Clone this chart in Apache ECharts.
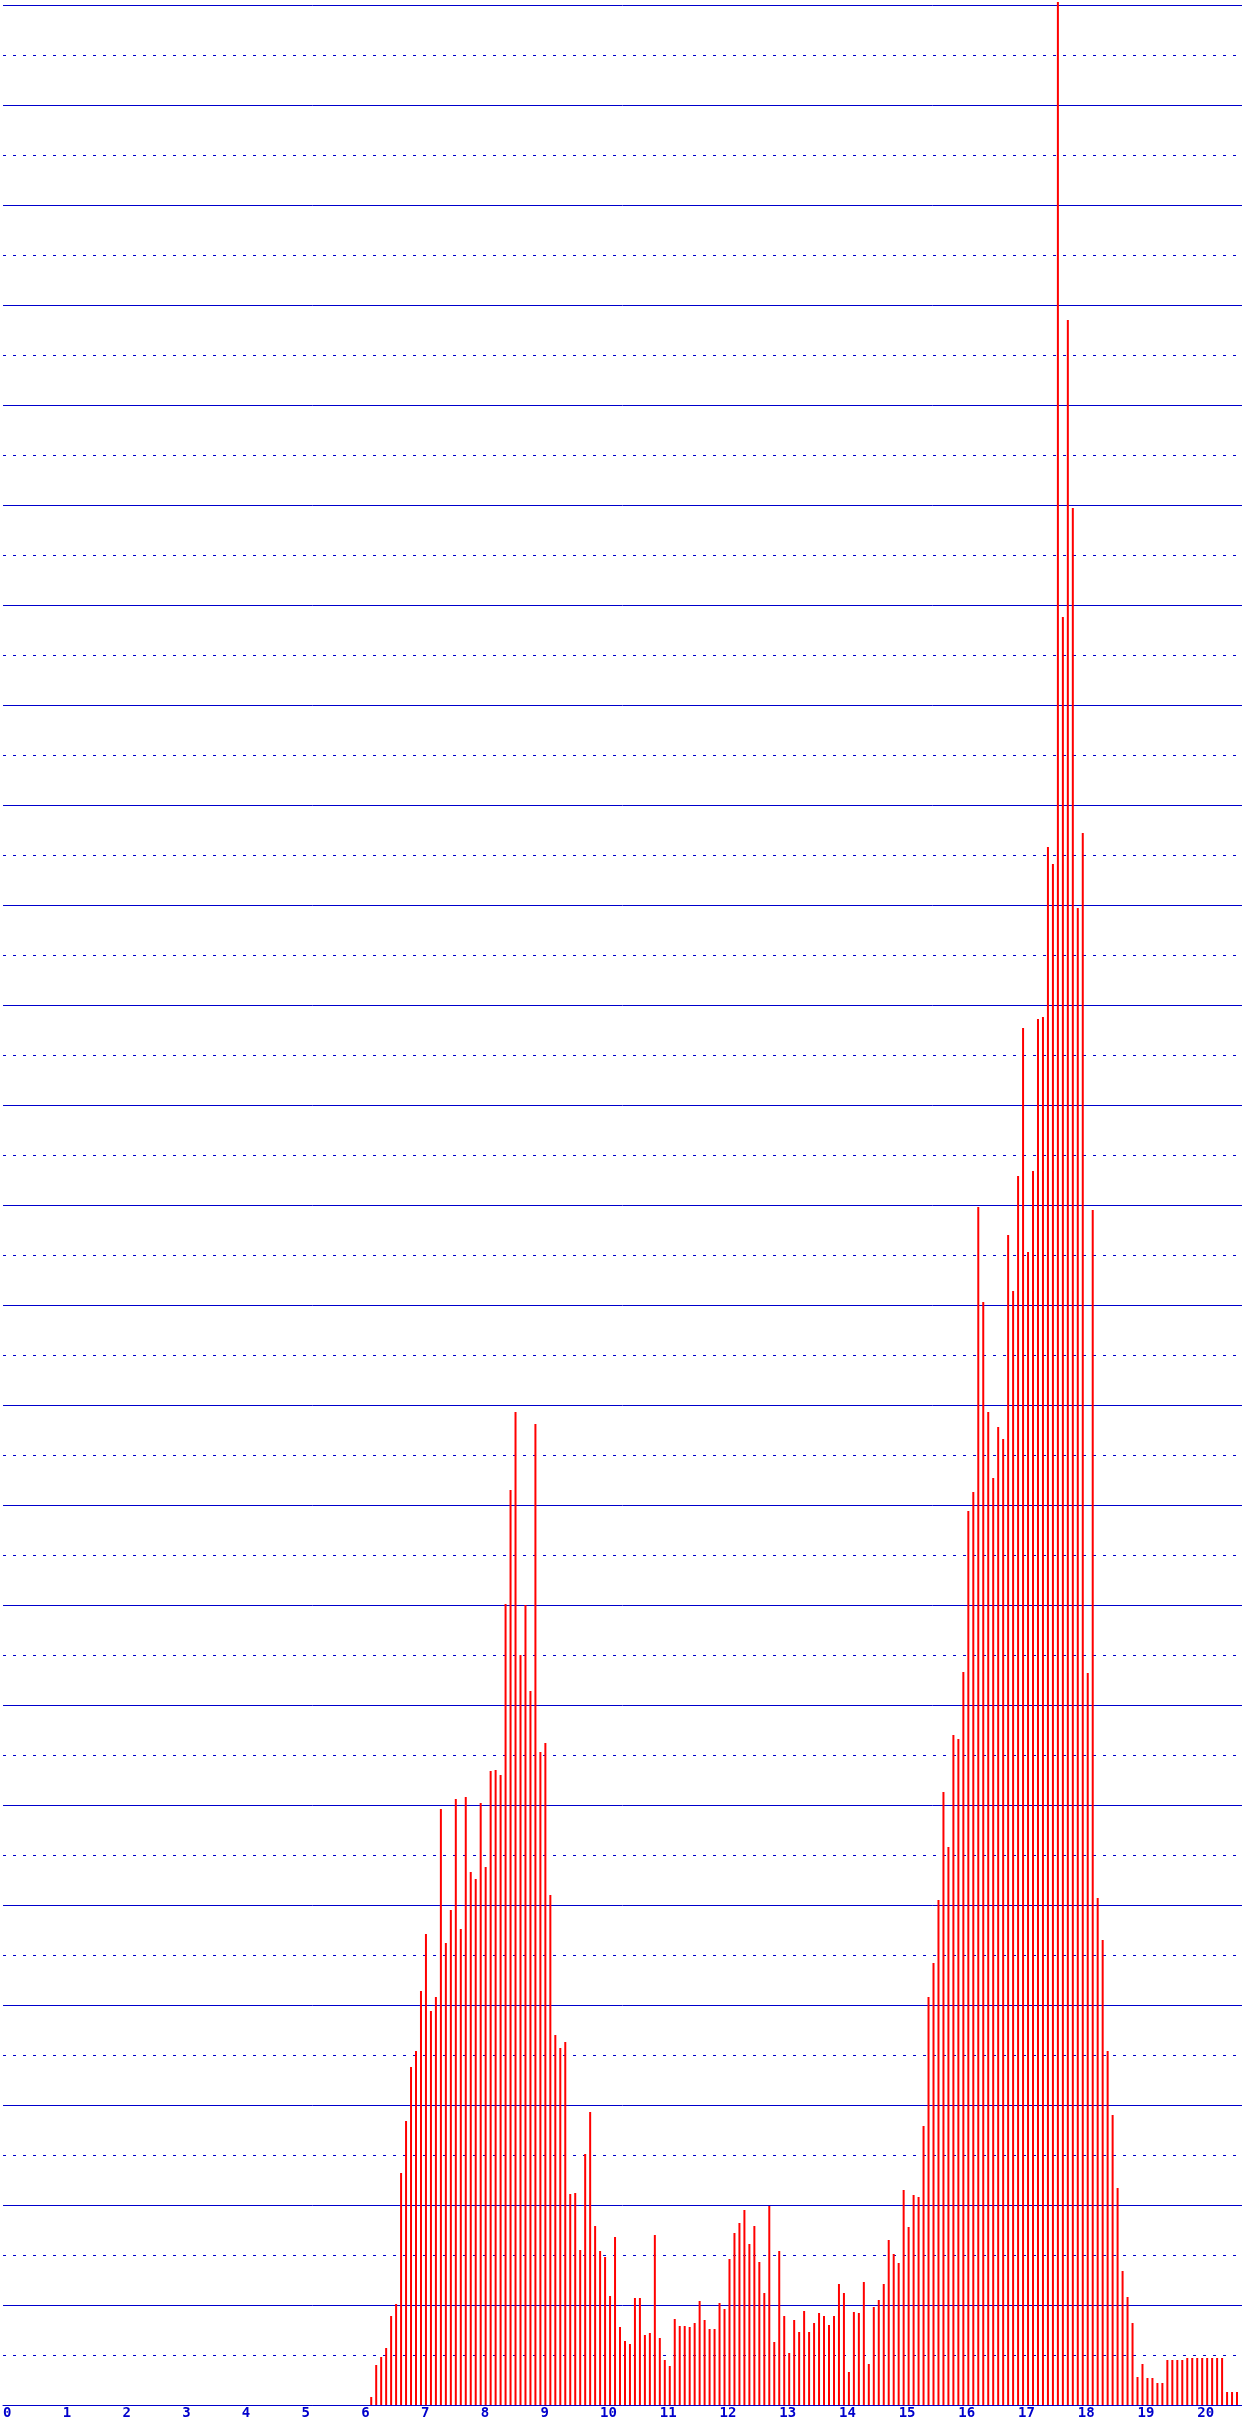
<!DOCTYPE html>
<html>
<head>
<meta charset="utf-8">
<style>
  html, body { margin: 0; padding: 0; background: #ffffff; }
  #chart { width: 1242px; height: 2425px; }
</style>
<script src="https://cdn.jsdelivr.net/npm/echarts@6/dist/echarts.min.js"></script>
</head>
<body>
<div id="chart"></div>
<script>
// Histogram of counts per 5-minute bin, x axis in hours of the day.
const firstBinMinute = 370;   // first non-empty bin starts at 6:10
const binMinutes = 5;
const counts = [
  8, 40, 48, 57, 89, 101, 232, 284, 338, 354,
  414, 471, 394, 408, 596, 462, 495, 606, 476, 608,
  533, 526, 602, 538, 634, 635, 630, 801, 915, 993,
  750, 800, 714, 981, 653, 662, 510, 370, 357, 363,
  211, 212, 155, 251, 293, 179, 154, 148, 109, 168,
  78, 64, 61, 107, 107, 70, 72, 170, 67, 45,
  39, 86, 79, 79, 78, 82, 104, 85, 76, 76,
  102, 96, 146, 172, 182, 195, 161, 179, 143, 112,
  199, 63, 154, 89, 52, 85, 73, 94, 73, 82,
  92, 89, 80, 89, 121, 112, 33, 93, 92, 123,
  41, 98, 105, 121, 165, 151, 142, 215, 178, 210,
  208, 279, 408, 442, 505, 613, 558, 670, 666, 733,
  894, 913, 1198, 1103, 993, 927, 978, 966, 1170, 1114,
  1229, 1377, 1153, 1234, 1386, 1388, 1558, 1541, 2403, 1788,
  2085, 1897, 1497, 1572, 732, 1195, 507, 465, 354, 290,
  217, 134, 108, 82, 28, 41, 27, 27, 22, 22,
  45, 45, 45, 45, 47, 47, 47, 47, 47, 47,
  47, 47, 13, 13, 13
];
const hourTicks = [0, 1, 2, 3, 4, 5, 6, 7, 8, 9, 10, 11, 12, 13, 14, 15, 16, 17, 18, 19, 20];

const seriesData = counts.map((v, i) => [(firstBinMinute + i * binMinutes) / 60, v]);

const BLUE = '#0000CC';
const chart = echarts.init(document.getElementById('chart'), null, { renderer: 'canvas' });
chart.setOption({
  animation: false,
  backgroundColor: '#ffffff',
  grid: { left: 1, top: 5, width: 1245, height: 2400, containLabel: false },
  xAxis: {
    type: 'value',
    min: 0,
    max: 20.75,
    interval: 1,
    axisLine: { show: true, lineStyle: { color: BLUE, width: 1 } },
    axisTick: { show: false },
    splitLine: { show: false },
    axisLabel: {
      show: true,
      color: BLUE,
      fontFamily: 'DejaVu Sans Mono',
      fontWeight: 'bold',
      fontSize: 14,
      lineHeight: 14,
      margin: 1,
      align: 'left',
      showMaxLabel: false,
      formatter: function (v) {
        return hourTicks.indexOf(v) >= 0 ? String(v) : '';
      }
    }
  },
  yAxis: {
    type: 'value',
    min: 0,
    max: 2400,
    interval: 100,
    axisLine: { show: false },
    axisTick: { show: false },
    axisLabel: { show: false },
    splitLine: { show: true, lineStyle: { color: BLUE, width: 1, type: 'solid' } },
    minorTick: { show: false, splitNumber: 2 },
    minorSplitLine: { show: true, lineStyle: { color: BLUE, width: 1, type: [3, 7] } }
  },
  series: [{
    type: 'bar',
    data: seriesData,
    barWidth: 2,
    clip: false,
    itemStyle: { color: '#FF0000' },
    emphasis: { disabled: true }
  }]
});
</script>
</body>
</html>
